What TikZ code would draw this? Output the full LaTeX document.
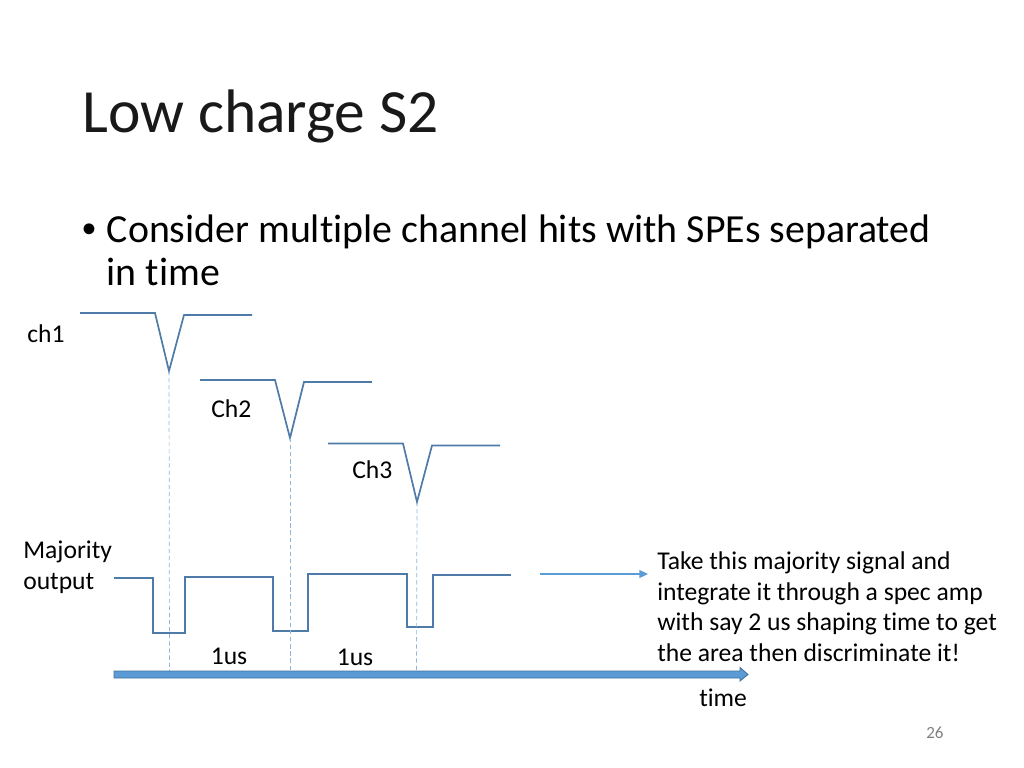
\documentclass[tikz,border=0pt]{standalone}
\usepackage{fontspec}
\setmainfont{Carlito}[RawFeature=-liga]
\newfontfamily\bulletfont{Liberation Sans}
\usetikzlibrary{arrows.meta}
\definecolor{traceblue}{HTML}{4F7BA8}
\definecolor{accentblue}{HTML}{5B9BD5}
\definecolor{edgeblue}{HTML}{41719C}
\tikzset{
  trace/.style={traceblue, line width=1.2pt},
  guide/.style={accentblue!70, densely dashed, line width=0.5pt},
  label/.style={anchor=base west, inner sep=0pt, font=\fontsize{18}{18}\selectfont},
  bodytext/.style={anchor=base west, inner sep=0pt, font=\fontsize{28}{28}\selectfont}
}
\begin{document}
\begin{tikzpicture}[x=0.703pt, y=-0.703pt]
      \useasboundingbox (0, 0) rectangle (1024, 768);
      \node [anchor=base west, inner sep=0pt, font=\fontsize{43.2}{43.2}\selectfont, black!90] (title) at (82, 132.5) {Low charge S2};
      \node [bodytext, font=\bulletfont\fontsize{28}{28}\selectfont] (bullet) at (82, 242) {•};
      \node [bodytext] (body1) at (106.5, 242.5) {Consider multiple channel hits with SPEs separated};
      \node [bodytext] (body2) at (106.5, 285.5) {in time};

      % pulses
      \draw [trace] (80, 313) -- (155, 313) -- (169, 371) coordinate (tip1) -- (184, 315) -- (252, 315);
      \draw [trace] (200, 380) -- (275, 380) -- (290, 438) coordinate (tip2) -- (304, 382) -- (372, 382);
      \draw [trace] (328, 443.5) -- (403, 443.5) -- (417, 502) coordinate (tip3) -- (432, 445.5) -- (500, 445.5);

      \node [label] (ch1) at (27, 342) {ch1};
      \node [label] (ch2) at (211, 417) {Ch2};
      \node [label] (ch3) at (352, 478) {Ch3};

      % majority output
      \draw [trace] (114, 578) -- (153, 578) -- (153, 633) -- (185, 633) -- (185, 577) -- (273, 577) -- (273, 631) -- (308, 631) -- (308, 574) -- (407, 574) -- (407, 627) -- (433, 627) -- (433, 575) -- (511, 575);
      \node [label] (maj1) at (23, 558) {Majority};
      \node [label] (maj2) at (23, 589) {output};

      % time axis
      \coordinate (end1) at (169.5, 671);
      \coordinate (end2) at (290, 671);
      \coordinate (end3) at (416.5, 671);
      \draw [guide] (tip1) -- (end1);
      \draw [guide] (tip2) -- (end2);
      \draw [guide] (tip3) -- (end3);
      \draw [fill=accentblue, draw=edgeblue, line width=0.6pt] (114, 671) -- (740, 671) -- (740, 667.5) -- (748, 674.5) -- (740, 681) -- (740, 678) -- (114, 678) -- cycle;
      \node [label] (gap1) at (210.5, 664) {1us};
      \node [label] (gap2) at (336.5, 665) {1us};
      \node [label] (time) at (699, 706) {time};

      % note
      \coordinate (out) at (540, 574);
      \coordinate (in) at (648, 574);
      \draw [accentblue, line width=0.9pt, -{Triangle[length=6pt, width=5.5pt]}] (out) -- (in);
      \node [label] (note1) at (657, 569) {Take this majority signal and};
      \node [label] (note2) at (657, 600) {integrate it through a spec amp};
      \node [label] (note3) at (657, 630) {with say 2 us shaping time to get};
      \node [label] (note4) at (657, 661) {the area then discriminate it!};

      \node [anchor=base west, inner sep=0pt, font=\fontsize{12}{12}\selectfont, black!50] (page) at (926, 738) {26};
\end{tikzpicture}
\end{document}
